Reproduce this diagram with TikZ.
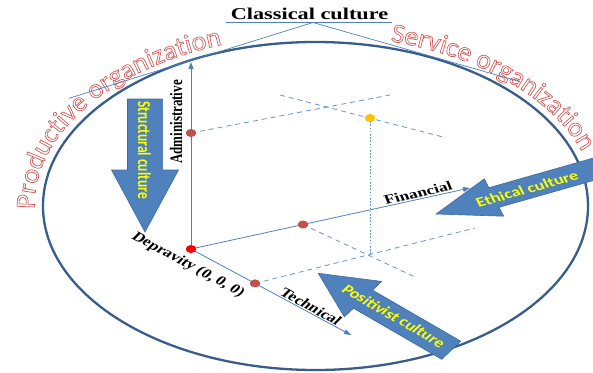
\documentclass[tikz,border=0pt]{standalone}
\usepackage{fontspec}
\setmainfont{Liberation Serif}
\newfontfamily\calfont{Carlito}
\newfontfamily\arcfont[FakeStretch=1.03]{Carlito}
\usetikzlibrary{arrows.meta,shapes.geometric,decorations.text}
\definecolor{axisblue}{RGB}{79,129,189}
\definecolor{ellblue}{RGB}{56,93,138}
\definecolor{arrowfill}{RGB}{79,129,189}
\definecolor{arrowline}{RGB}{65,105,160}
\definecolor{dotred}{RGB}{192,80,77}
\definecolor{origred}{RGB}{255,0,0}
\definecolor{dotyellow}{RGB}{255,192,0}
\definecolor{orgred}{RGB}{210,90,90}
\definecolor{cultyellow}{RGB}{255,255,0}
\makeatletter
\newcommand\outlinetext{\pgfsys@invoke{1 Tr}}
\makeatother
\tikzset{
  axisline/.style={draw=axisblue, line width=0.8pt, -{Triangle[length=7pt,width=5pt]}},
  guide/.style={draw=axisblue!85, line width=0.8pt, dash pattern=on 5pt off 4pt},
  dotguide/.style={draw=axisblue!85, line width=0.9pt, dash pattern=on 1.6pt off 1.6pt},
  topline/.style={draw=axisblue, line width=0.7pt},
  dotmark/.style={shape=ellipse, minimum width=10.5pt, minimum height=8pt, inner sep=0pt, draw=none},
  axislabel/.style={font=\bfseries\fontsize{13}{13}\selectfont, text=black, inner sep=0pt, xscale=1.35},
  culturelabel/.style={font=\calfont\bfseries\fontsize{13.5}{13.5}\selectfont, text=cultyellow, inner sep=0pt, xscale=1.35},
  blockarrow/.style={fill=arrowfill, draw=arrowline, line width=0.6pt, line join=miter},
}
% tip x, tip y, direction, length, head length, head half-width, shaft half-width
\newcommand\blockarrow[7]{%
  \begin{scope}[shift={(#1,#2)}, xscale=1.35, rotate=#3]
    \path[blockarrow] (0,0) -- (-#5,#6) -- (-#5,#7) -- (-#4,#7) -- (-#4,-#7) -- (-#5,-#7) -- (-#5,-#6) -- cycle;
  \end{scope}}
\begin{document}
\begin{tikzpicture}[x=1pt,y=1pt]
\useasboundingbox (0,0) rectangle (593,-372);
\clip (0,0) rectangle (593,-372);
% main ellipse
\draw[ellblue, line width=2.3pt] (315.5,-206) ellipse[x radius=272.5, y radius=164];
% curved organisation texts
\begin{scope}
\pgfsetlinewidth{0.7pt}\outlinetext
\path[decorate, decoration={text along path, text align=left,
  text={|\arcfont\fontsize{27}{27}\selectfont\color{orgred}|Productive organization}}]
  ([shift={(181:281 and 171)}]315.5,-206) arc[start angle=181, end angle=60, x radius=281, y radius=171];
\path[decorate, decoration={text along path, text align=left,
  text={|\arcfont\fontsize{27}{27}\selectfont\color{orgred}|Service organization}}]
  ([shift={(74.5:281 and 171)}]315.5,-206) arc[start angle=74.5, end angle=-40, x radius=281, y radius=171];
\end{scope}
% title and top lines
\node[font=\bfseries\fontsize{16.5}{16.5}\selectfont, xscale=1.35, inner sep=0pt, anchor=base] (cc) at (309.5,-19) {Classical culture};
\coordinate (ulL) at (226,-22);
\coordinate (ulR) at (392,-22);
\coordinate (apex) at (313,-22.5);
\coordinate (tlL) at (69,-98.3);
\coordinate (tlR) at (520,-81.7);
\draw[topline] (ulL) -- (ulR);
\draw[topline] (tlL) -- (apex) -- (tlR);
% axis points
\coordinate (O) at (191,-249);
\coordinate (adm) at (191,-133);
\coordinate (fin) at (303,-224.5);
\coordinate (tec) at (255,-283.4);
\coordinate (yel) at (370,-118);
\coordinate (vtop) at (191,-62);
\coordinate (ftip) at (470,-188);
\coordinate (ttip) at (351,-335);
% guide lines
\coordinate (g1) at (390,-95);
\coordinate (g2a) at (280,-95);
\coordinate (g2b) at (443,-137);
\coordinate (g3) at (370,-255);
\coordinate (g4) at (417,-278);
\coordinate (g5) at (475,-228);
\draw[guide] (adm) -- (g1);
\draw[guide] (g2a) -- (g2b);
\draw[dotguide] (yel) -- (g3);
\draw[guide] (fin) -- (g4);
\draw[guide] (tec) -- (g5);
% axes
\draw[axisline] (O) -- (vtop);
\draw[axisline] (O) -- (ftip);
\draw[axisline] (O) -- (ttip);
% dots
\node[dotmark, fill=dotred] (admdot) at (adm) {};
\node[dotmark, fill=dotred] (findot) at (fin) {};
\node[dotmark, fill=dotred] (tecdot) at (tec) {};
\node[dotmark, fill=dotyellow] (yeldot) at (yel) {};
\node[dotmark, fill=origred] (odot) at (O) {};
% axis labels
\node[axislabel, rotate=90] (admlab) at (176,-122) {Administrative};
\node[axislabel, rotate=-36] (deplab) at (188,-265) {Depravity (0, 0, 0)};
\node[axislabel, rotate=-36] (teclab) at (311,-306.5) {Technical};
\node[axislabel, rotate=16.5] (finlab) at (418,-193) {Financial};
% block arrows
\blockarrow{145}{-232}{-90}{133}{62}{24.8}{13}
\blockarrow{318.3}{-273.3}{142}{125}{42}{22.5}{11.5}
\blockarrow{436}{-214}{201}{160}{46}{20}{10.5}
% culture labels
\node[culturelabel, rotate=-90] (strlab) at (144.5,-150) {Structural culture};
\node[culturelabel, rotate=21] (ethlab) at (527,-189) {Ethical culture};
\node[culturelabel, rotate=-38] (poslab) at (394,-316) {Positivist culture};
\end{tikzpicture}
\end{document}
